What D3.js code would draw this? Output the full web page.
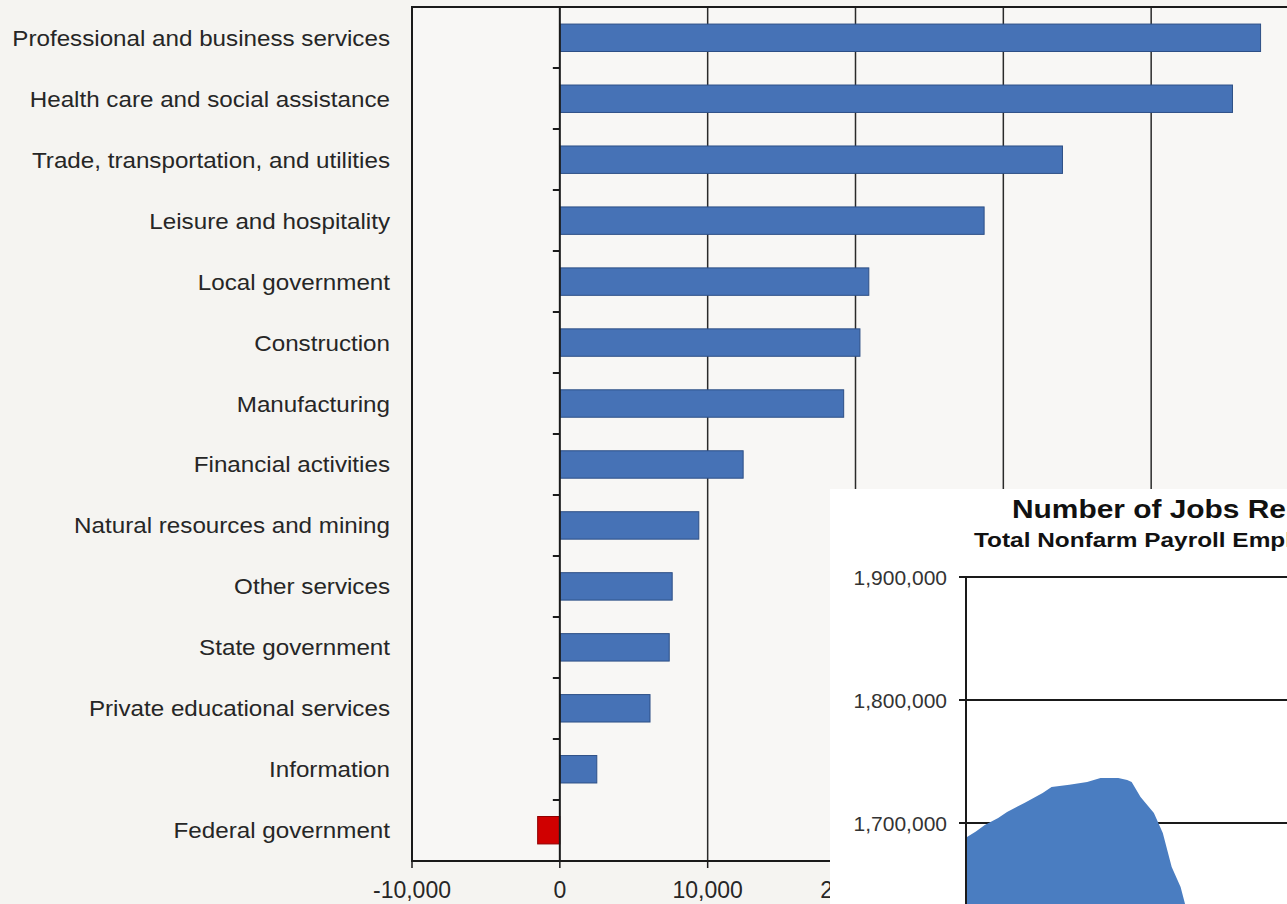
<!DOCTYPE html>
<html><head><meta charset="utf-8">
<script src="https://cdn.jsdelivr.net/npm/d3@7"></script>
<style>
html,body{margin:0;padding:0;background:#f5f4f1;overflow:hidden;}
svg{display:block;}
</style></head>
<body>
<svg id="c" width="1287" height="904"></svg>
<script>
// ---- Main bar chart data ----
const categories = [
  "Professional and business services",
  "Health care and social assistance",
  "Trade, transportation, and utilities",
  "Leisure and hospitality",
  "Local government",
  "Construction",
  "Manufacturing",
  "Financial activities",
  "Natural resources and mining",
  "Other services",
  "State government",
  "Private educational services",
  "Information",
  "Federal government"
];
const jobChange = [47400, 45500, 34000, 28700, 20900, 20300, 19200, 12400, 9400, 7600, 7400, 6100, 2500, -1500];
const xTicks = [-10000, 0, 10000, 20000, 30000, 40000, 50000];
const xTickLabels = ["-10,000", "0", "10,000", "20,000", "30,000", "40,000"];

// ---- Inset area chart data (monthly index, employment) ----
const insetTitle = "Number of Jobs Reported";
const insetSubtitle = "Total Nonfarm Payroll Employment";
const insetMonths = [0, 2, 4, 7, 9, 13, 17, 19, 23, 27, 30, 34, 36, 37, 39, 42, 44, 46, 48, 49, 51, 53];
const insetJobs = [1688600, 1693000, 1698400, 1704000, 1708900, 1716500, 1724400, 1729300, 1731000, 1733300,
  1736600, 1736600, 1735000, 1733300, 1721100, 1708100, 1691900, 1664200, 1648000, 1634100, 1600000, 1560000];
const insetTicks = [1700000, 1800000, 1900000];
const insetTickLabels = ["1,700,000", "1,800,000", "1,900,000"];

const svg = d3.select("#c");
const FONT = "Liberation Sans, Arial, sans-serif";

// ----- main chart -----
const plot = {left: 412, top: 7, bottom: 861, right: 1299};
const x = d3.scaleLinear().domain([-10000, 50000]).range([plot.left, plot.right]);
const y = d3.scaleBand().domain(categories).range([plot.top, plot.bottom]).paddingInner(0.55).paddingOuter(0.28);
const step = (plot.bottom - plot.top) / categories.length;

svg.append("rect").attr("x", plot.left).attr("y", plot.top)
  .attr("width", plot.right - plot.left).attr("height", plot.bottom - plot.top)
  .attr("fill", "#f8f7f5");

// vertical gridlines
svg.append("g").selectAll("line").data(xTicks.filter(d => d > 0)).join("line")
  .attr("x1", d => x(d)).attr("x2", d => x(d))
  .attr("y1", plot.top).attr("y2", plot.bottom)
  .attr("stroke", "#2a2a2a").attr("stroke-width", 1.5);

// bars
svg.append("g").selectAll("rect").data(categories).join("rect")
  .attr("x", (d, i) => x(Math.min(0, jobChange[i])))
  .attr("y", d => y(d))
  .attr("width", (d, i) => Math.abs(x(jobChange[i]) - x(0)))
  .attr("height", y.bandwidth())
  .attr("fill", (d, i) => jobChange[i] < 0 ? "#d00000" : "#4672b6")
  .attr("stroke", (d, i) => jobChange[i] < 0 ? "#900000" : "#2d4f86")
  .attr("stroke-width", 1);

// category ticks on zero axis
svg.append("g").selectAll("line").data(d3.range(1, categories.length)).join("line")
  .attr("x1", x(0) - 7).attr("x2", x(0))
  .attr("y1", i => plot.top + i * step).attr("y2", i => plot.top + i * step)
  .attr("stroke", "#1a1a1a").attr("stroke-width", 2);

// zero axis
svg.append("line").attr("x1", x(0)).attr("x2", x(0)).attr("y1", plot.top).attr("y2", plot.bottom)
  .attr("stroke", "#1a1a1a").attr("stroke-width", 2);

// frame
svg.append("path")
  .attr("d", `M${plot.right + 5},${plot.top}H${plot.left}V${plot.bottom}H${plot.right + 5}`)
  .attr("fill", "none").attr("stroke", "#1a1a1a").attr("stroke-width", 2);

// bottom ticks
svg.append("g").selectAll("line").data(xTicks).join("line")
  .attr("x1", d => x(d)).attr("x2", d => x(d))
  .attr("y1", plot.bottom).attr("y2", plot.bottom + 7)
  .attr("stroke", "#1a1a1a").attr("stroke-width", 1.5);

// x labels
svg.append("g").selectAll("text").data(xTickLabels).join("text")
  .attr("x", (d, i) => x(xTicks[i])).attr("y", 898)
  .attr("text-anchor", "middle")
  .attr("font-family", FONT)
  .attr("font-size", 23).attr("fill", "#262626")
  .text(d => d);

// category labels (slightly wide glyphs as in the source)
svg.append("g").selectAll("text").data(categories).join("text")
  .attr("transform", d => `translate(390,${y(d) + y.bandwidth() / 2 + 8}) scale(1.1,1)`)
  .attr("text-anchor", "end")
  .attr("font-family", FONT)
  .attr("font-size", 22).attr("fill", "#262626")
  .text(d => d);

// ----- inset -----
const inset = svg.append("g");
inset.append("rect").attr("x", 830).attr("y", 489).attr("width", 500).attr("height", 500).attr("fill", "#ffffff");

const ix = d3.scaleLinear().domain([0, 60]).range([967, 1234]);
const iy = d3.scaleLinear().domain([1600000, 1900000]).range([946, 577]);
const iLeft = 966;

// gridlines
inset.append("g").selectAll("line").data(insetTicks).join("line")
  .attr("x1", iLeft - 7).attr("x2", 1300)
  .attr("y1", d => iy(d)).attr("y2", d => iy(d))
  .attr("stroke", "#1a1a1a").attr("stroke-width", 2);

// area
const area = d3.area()
  .x((d, i) => ix(insetMonths[i]))
  .y0(iy(1400000))
  .y1(d => iy(d));
inset.append("path").datum(insetJobs).attr("d", area).attr("fill", "#4a7dc1");

// y axis line
inset.append("line").attr("x1", iLeft).attr("x2", iLeft).attr("y1", iy(1900000)).attr("y2", 920)
  .attr("stroke", "#1a1a1a").attr("stroke-width", 2);

inset.append("g").selectAll("text").data(insetTickLabels).join("text")
  .attr("x", 947).attr("y", (d, i) => iy(insetTicks[i]) + 8)
  .attr("text-anchor", "end")
  .attr("font-family", FONT)
  .attr("font-size", 21).attr("fill", "#333")
  .text(d => d);

inset.append("text").attr("transform", "translate(1012,518) scale(1.15,1)")
  .attr("font-family", FONT)
  .attr("font-weight", "bold").attr("font-size", 26).attr("fill", "#111")
  .text(insetTitle);
inset.append("text").attr("transform", "translate(974,547) scale(1.22,1)")
  .attr("font-family", FONT)
  .attr("font-weight", "bold").attr("font-size", 20).attr("fill", "#111")
  .text(insetSubtitle);
</script>
</body></html>
